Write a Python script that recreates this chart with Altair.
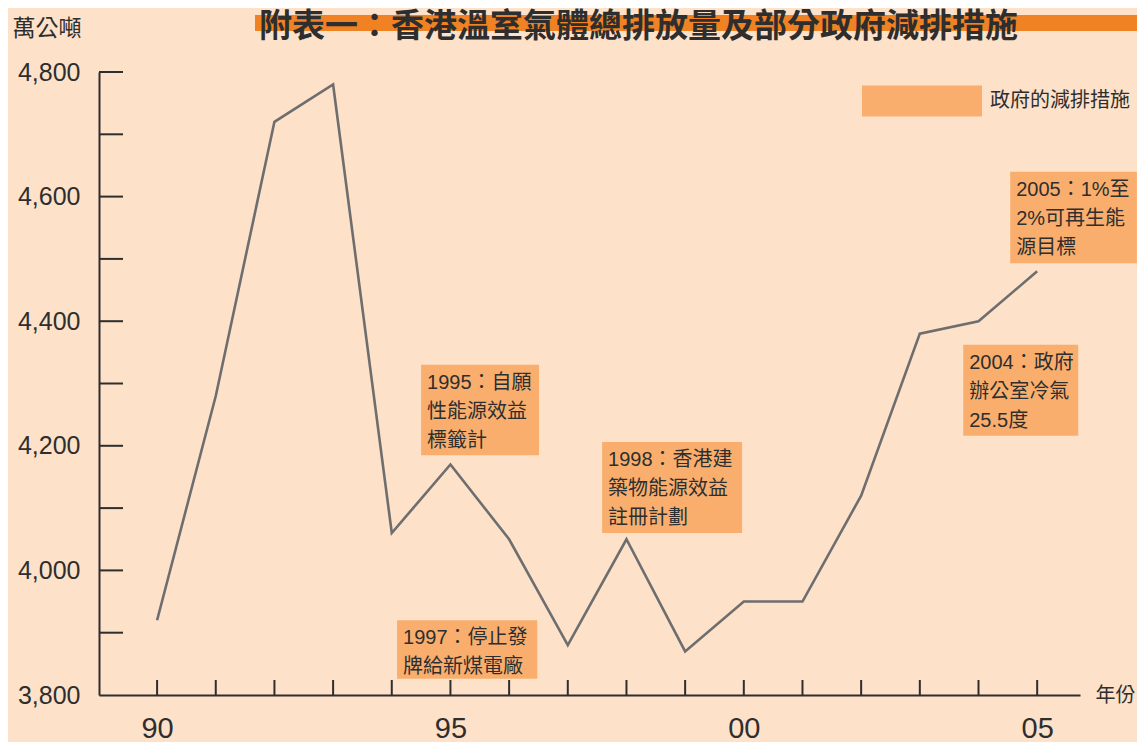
import altair as alt
import pandas as pd

# ---- data ----
years = list(range(1990, 2006))
emissions = [3920, 4280, 4720, 4780, 4060, 4170, 4050, 3880,
             4050, 3870, 3950, 3950, 4120, 4380, 4400, 4480]

ann_labels = [
    "1995：自願\n性能源效益\n標籤計",
    "1997：停止發\n牌給新煤電廠",
    "1998：香港建\n築物能源效益\n註冊計劃",
    "2004：政府\n辦公室冷氣\n25.5度",
    "2005：1%至\n2%可再生能\n源目標",
]
ann_x0 = [1994.50, 1994.09, 1997.585, 2003.74, 2004.54]
ann_x1 = [1996.51, 1996.48, 1999.97, 2005.70, 2006.70]
ann_top = [4330, 3920, 4206, 4362, 4640]
ann_bottom = [4185, 3826, 4060, 4216, 4493]
legend_label = "政府的減排措施"

y_label_values = [3800, 4000, 4200, 4400, 4600, 4800]
y_tick_values = [3900, 4000, 4100, 4200, 4300, 4400, 4500, 4600, 4700, 4800]
x_label_values = [1990, 1995, 2000, 2005]

title_text = ["附表一：香港溫室氣體總排放量及部分政府減排措施"]

# ---- style ----
W, H = 981, 623
BG = "#FDE1C9"
ORANGE_BOX = "#F9AE6E"
BAND = "#F08224"
LINE = "#6E6E6E"
INK = "#2E2E2E"
FONT = "Liberation Sans, 'Noto Sans CJK TC', sans-serif"
CJK = "'Noto Sans CJK TC', sans-serif"

xs = alt.Scale(domain=[1989.01, 2005.73], nice=False, zero=False)
ys = alt.Scale(domain=[3800, 4800], nice=False, zero=False)

AX = alt.Axis(
    values=x_label_values, grid=False, ticks=False,
    labelExpr="substring(toString(datum.value), 2, 4)",
    labelFont=FONT, labelFontSize=29, labelColor=INK,
    labelPadding=19, labelFlush=False,
    domainColor=INK, domainWidth=2,
    title="年份", titleFont=CJK, titleFontSize=20,
    titleFontWeight="normal", titleColor=INK,
    titleAnchor="start", titleX=996, titleY=0,
    titleAlign="left", titleBaseline="middle",
)
AY = alt.Axis(
    values=y_label_values, grid=False, ticks=False,
    labelExpr="format(datum.value, ',')",
    labelFont=FONT, labelFontSize=25, labelColor=INK,
    labelPadding=19, domainColor=INK, domainWidth=2,
    title="萬公噸", titleFont=CJK, titleFontSize=23,
    titleFontWeight="normal", titleColor=INK, titleAngle=0,
    titleX=-87, titleY=-44, titleAlign="left",
    titleBaseline="middle",
)

df = pd.DataFrame({"year": years, "value": emissions})
ann = pd.DataFrame({
    "label": ann_labels, "x0": ann_x0, "x1": ann_x1,
    "top": ann_top, "bottom": ann_bottom,
    "kind": [legend_label] * len(ann_labels),
})
xt = pd.DataFrame({"year": years})
yt = pd.DataFrame({"value": y_tick_values})
tdf = pd.DataFrame({"title": title_text})

line = alt.Chart(df).mark_line(color=LINE, strokeWidth=2.6).encode(
    x=alt.X("year:Q", scale=xs, axis=AX),
    y=alt.Y("value:Q", scale=ys, axis=AY),
)

band = alt.Chart(pd.DataFrame({"a": [0]})).mark_rect(color=BAND).encode(
    x=alt.value(156), x2=alt.value(1040), y=alt.value(-57), y2=alt.value(-41)
)

title = alt.Chart(tdf).mark_text(
    align="left", baseline="alphabetic", font=CJK, fontSize=33,
    fontWeight="bold", color=INK,
).encode(x=alt.value(160), y=alt.value(-35), text="title:N")

boxes = alt.Chart(ann).mark_rect(opacity=1).encode(
    x=alt.X("x0:Q", scale=xs, axis=AX),
    x2="x1:Q",
    y=alt.Y("top:Q", scale=ys, axis=AY),
    y2="bottom:Q",
    color=alt.Color(
        "kind:N",
        scale=alt.Scale(domain=[legend_label], range=[ORANGE_BOX]),
        legend=alt.Legend(
            title=None, orient="none", legendX=763, legendY=-31,
            symbolType="M-1,-0.26L1,-0.26L1,0.26L-1,0.26Z",
            symbolSize=14400, symbolStrokeWidth=0, symbolOpacity=1,
            labelFontSize=20, labelFont=CJK, labelColor=INK,
            labelOffset=8, padding=0, labelLimit=300,
        ),
    ),
)

texts = alt.Chart(ann).mark_text(
    align="left", baseline="top", dx=6, dy=8, lineBreak="\n",
    lineHeight=29, fontSize=20, font=FONT, color=INK,
).encode(
    x=alt.X("x0:Q", scale=xs, axis=AX),
    y=alt.Y("top:Q", scale=ys, axis=AY),
    text="label:N",
)

xticks = alt.Chart(xt).mark_rule(color=INK, strokeWidth=2).encode(
    x=alt.X("year:Q", scale=xs, axis=AX),
    y=alt.value(H), y2=alt.value(H - 15),
)
yticks = alt.Chart(yt).mark_rule(color=INK, strokeWidth=2).encode(
    y=alt.Y("value:Q", scale=ys, axis=AY),
    x=alt.value(0), x2=alt.value(24),
)

chart = alt.layer(line, band, title, boxes, texts, xticks, yticks).properties(
    width=W, height=H,
    autosize=alt.AutoSizeParams(type="none"),
    padding={"left": 91, "top": 64, "right": 57, "bottom": 47},
).configure(background=BG).configure_view(stroke=None)

chart.save("out.html", embed_options={"renderer": "svg", "actions": False})
